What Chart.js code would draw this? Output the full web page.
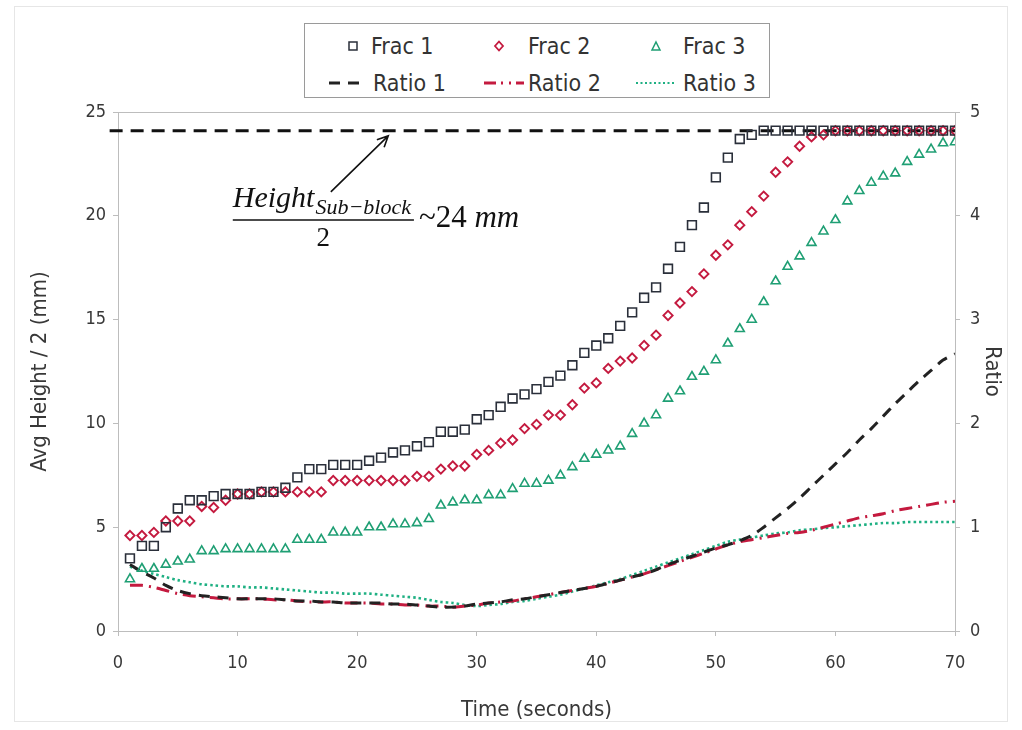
<!DOCTYPE html>
<html>
<head>
<meta charset="utf-8">
<script src="https://cdn.jsdelivr.net/npm/chart.js@4.4.1/dist/chart.umd.min.js"></script>
<style>
  html, body { margin: 0; padding: 0; background: #fff; }
  #wrap { position: relative; width: 1022px; height: 730px; }
  #frame { position: absolute; left: 14px; top: 6px; width: 992px; height: 714px; border: 1px solid #e6e6e6; }
  #legend {
    position: absolute; left: 304px; top: 23px; width: 464px; height: 73px;
    border: 1px solid #9a9a9a; background: #fff; color: #333;
    font-family: 'Liberation Sans Narrow', 'DejaVu Sans Condensed', sans-serif; font-size: 23px;
  }
  #legend .sym { position: absolute; transform: translate(-50%, -50%); }
  #legend .txt { position: absolute; transform: translateY(-50%); white-space: nowrap; line-height: 1; }
</style>
</head>
<body>
<div id="wrap">
  <div id="frame"></div>
  <canvas id="chart" width="1022" height="730"></canvas>
  <div id="legend">
    <svg class="sym" style="left:48px;top:22px" width="12" height="12"><rect x="2" y="2" width="8" height="8" fill="none" stroke="#2a2f3a" stroke-width="1.5"/></svg>
    <span class="txt" style="left:66px;top:22px">Frac 1</span>
    <svg class="sym" style="left:194px;top:22px" width="12" height="12"><path d="M6 1.5 L10 6 L6 10.5 L2 6 Z" fill="none" stroke="#c41a3f" stroke-width="1.8"/></svg>
    <span class="txt" style="left:223px;top:22px">Frac 2</span>
    <svg class="sym" style="left:351px;top:22px" width="12" height="12"><path d="M6 2 L10 10 L2 10 Z" fill="none" stroke="#1f9f74" stroke-width="1.5"/></svg>
    <span class="txt" style="left:378px;top:22px">Frac 3</span>

    <svg class="sym" style="left:40px;top:59px" width="34" height="8"><line x1="1" y1="4" x2="33" y2="4" stroke="#222" stroke-width="3" stroke-dasharray="11 8"/></svg>
    <span class="txt" style="left:68px;top:59px">Ratio 1</span>
    <svg class="sym" style="left:199px;top:59px" width="42" height="8"><line x1="1" y1="4" x2="41" y2="4" stroke="#c41a3f" stroke-width="3" stroke-dasharray="12 5 2 6 2 5"/></svg>
    <span class="txt" style="left:223px;top:59px">Ratio 2</span>
    <svg class="sym" style="left:351px;top:59px" width="42" height="8"><line x1="1" y1="4" x2="41" y2="4" stroke="#1fb083" stroke-width="2.2" stroke-dasharray="2 2.5"/></svg>
    <span class="txt" style="left:378px;top:59px">Ratio 3</span>
  </div>
</div>
<script>
const seconds = [1, 2, 3, 4, 5, 6, 7, 8, 9, 10, 11, 12, 13, 14, 15, 16, 17, 18, 19, 20,
  21, 22, 23, 24, 25, 26, 27, 28, 29, 30, 31, 32, 33, 34, 35, 36, 37, 38, 39, 40,
  41, 42, 43, 44, 45, 46, 47, 48, 49, 50, 51, 52, 53, 54, 55, 56, 57, 58, 59, 60,
  61, 62, 63, 64, 65, 66, 67, 68, 69, 70];

// avg height / 2 (mm), left axis
const frac1 = [3.5, 4.1, 4.1, 5.0, 5.9, 6.3, 6.3, 6.5, 6.6, 6.6, 6.6, 6.7, 6.7, 6.9, 7.4, 7.8, 7.8, 8.0, 8.0, 8.0,
  8.2, 8.35, 8.6, 8.7, 8.9, 9.1, 9.6, 9.6, 9.7, 10.2, 10.4, 10.8, 11.2, 11.4, 11.65, 12.0, 12.3, 12.8, 13.4, 13.75,
  14.1, 14.7, 15.35, 16.05, 16.55, 17.45, 18.5, 19.55, 20.4, 21.85, 22.8, 23.7, 23.9, 24.1, 24.1, 24.1, 24.1, 24.1, 24.1, 24.1,
  24.1, 24.1, 24.1, 24.1, 24.1, 24.1, 24.1, 24.1, 24.1, 24.1];
const frac2 = [4.6, 4.6, 4.75, 5.3, 5.3, 5.3, 6.0, 5.95, 6.3, 6.6, 6.6, 6.7, 6.7, 6.7, 6.7, 6.7, 6.7, 7.25, 7.25, 7.25,
  7.25, 7.25, 7.25, 7.25, 7.45, 7.45, 7.8, 7.95, 7.95, 8.5, 8.7, 9.05, 9.2, 9.75, 9.95, 10.4, 10.4, 10.9, 11.7, 11.95,
  12.65, 13.0, 13.15, 13.75, 14.25, 15.2, 15.8, 16.35, 17.2, 18.1, 18.6, 19.55, 20.2, 20.95, 22.1, 22.6, 23.35, 23.8, 23.9, 24.1,
  24.1, 24.1, 24.1, 24.1, 24.1, 24.1, 24.1, 24.1, 24.1, 24.1];
const frac3 = [2.5, 3.0, 3.0, 3.2, 3.35, 3.45, 3.85, 3.85, 3.95, 3.95, 3.95, 3.95, 3.95, 3.95, 4.4, 4.4, 4.4, 4.75, 4.75, 4.75,
  5.0, 5.0, 5.15, 5.15, 5.2, 5.4, 6.05, 6.2, 6.3, 6.3, 6.55, 6.55, 6.85, 7.1, 7.1, 7.25, 7.5, 7.9, 8.3, 8.5,
  8.7, 8.9, 9.5, 10.0, 10.4, 11.2, 11.55, 12.25, 12.5, 13.05, 13.85, 14.55, 15.0, 15.85, 16.85, 17.55, 18.05, 18.7, 19.25, 19.8,
  20.7, 21.2, 21.6, 21.9, 22.05, 22.6, 22.95, 23.2, 23.5, 23.55];

// ratios, right axis
const ratio1 = [0.64, 0.57, 0.51, 0.44, 0.39, 0.36, 0.34, 0.33, 0.32, 0.31, 0.31, 0.31, 0.31, 0.30, 0.29, 0.29, 0.28, 0.28, 0.27, 0.27,
  0.27, 0.27, 0.26, 0.26, 0.25, 0.24, 0.23, 0.23, 0.24, 0.26, 0.27, 0.28, 0.30, 0.31, 0.33, 0.35, 0.37, 0.39, 0.41, 0.43,
  0.46, 0.49, 0.52, 0.55, 0.59, 0.64, 0.68, 0.72, 0.76, 0.80, 0.83, 0.87, 0.92, 1.00, 1.09, 1.18, 1.28, 1.39, 1.50, 1.61,
  1.72, 1.84, 1.95, 2.07, 2.19, 2.30, 2.41, 2.51, 2.61, 2.67];
const ratio2 = [0.44, 0.44, 0.42, 0.39, 0.36, 0.34, 0.33, 0.32, 0.31, 0.31, 0.31, 0.31, 0.30, 0.30, 0.29, 0.28, 0.28, 0.28, 0.27, 0.27,
  0.27, 0.26, 0.26, 0.25, 0.25, 0.24, 0.24, 0.23, 0.24, 0.25, 0.27, 0.28, 0.29, 0.31, 0.33, 0.35, 0.37, 0.39, 0.41, 0.43,
  0.46, 0.49, 0.52, 0.55, 0.59, 0.63, 0.67, 0.71, 0.75, 0.79, 0.83, 0.86, 0.88, 0.90, 0.92, 0.94, 0.95, 0.97, 1.00, 1.03,
  1.06, 1.09, 1.11, 1.13, 1.16, 1.18, 1.20, 1.22, 1.24, 1.25];
const ratio3 = [0.62, 0.58, 0.55, 0.52, 0.49, 0.47, 0.45, 0.44, 0.43, 0.43, 0.42, 0.42, 0.41, 0.40, 0.39, 0.38, 0.37, 0.37, 0.36, 0.36,
  0.36, 0.35, 0.34, 0.33, 0.32, 0.30, 0.28, 0.27, 0.25, 0.24, 0.25, 0.26, 0.28, 0.29, 0.31, 0.33, 0.35, 0.38, 0.41, 0.44,
  0.47, 0.50, 0.54, 0.58, 0.62, 0.66, 0.70, 0.74, 0.78, 0.82, 0.86, 0.88, 0.90, 0.92, 0.94, 0.95, 0.97, 0.98, 0.99, 1.00,
  1.01, 1.02, 1.03, 1.04, 1.04, 1.05, 1.05, 1.05, 1.05, 1.05];

// sub-block half height reference line
const refX = [-0.7, 70];
const refY = [24.1, 24.1];

// annotation anchors (data units): arrow tail, arrow head, label left / fraction bar
const arrowFrom = [17.8, 21.15];
const arrowTo = [22.6, 23.85];
const labelAt = [9.6, 19.8];

const xTicks = [0, 10, 20, 30, 40, 50, 60, 70];
const yTicks = [0, 5, 10, 15, 20, 25];
const y1Ticks = [0, 1, 2, 3, 4, 5];

const FONT = "'Liberation Sans Narrow', 'DejaVu Sans Condensed', sans-serif";
const TEXT = '#383838';
const AXIS = '#bdbdbd';

const pts = (xs, ys) => xs.map((x, i) => ({ x: x, y: ys[i] }));

const annotPlugin = {
  id: 'annot',
  beforeDatasetsDraw(chart) {
    const { ctx, chartArea: a } = chart;
    ctx.save();
    ctx.strokeStyle = AXIS;
    ctx.lineWidth = 1;
    ctx.strokeRect(a.left + 0.5, a.top + 0.5, a.right - a.left, a.bottom - a.top);
    ctx.restore();
  },
  afterDatasetsDraw(chart) {
    const { ctx, scales: { x, y } } = chart;
    ctx.save();
    // arrow
    const x0 = x.getPixelForValue(arrowFrom[0]), y0 = y.getPixelForValue(arrowFrom[1]);
    const x1 = x.getPixelForValue(arrowTo[0]), y1 = y.getPixelForValue(arrowTo[1]);
    ctx.strokeStyle = '#111';
    ctx.lineWidth = 1.6;
    ctx.beginPath();
    ctx.moveTo(x0, y0);
    ctx.lineTo(x1, y1);
    const ang = Math.atan2(y1 - y0, x1 - x0);
    ctx.moveTo(x1 - 12 * Math.cos(ang - 0.45), y1 - 12 * Math.sin(ang - 0.45));
    ctx.lineTo(x1, y1);
    ctx.lineTo(x1 - 12 * Math.cos(ang + 0.45), y1 - 12 * Math.sin(ang + 0.45));
    ctx.stroke();

    // Height_{Sub-block} / 2 ~24 mm
    const lx = x.getPixelForValue(labelAt[0]), ly = y.getPixelForValue(labelAt[1]);
    ctx.fillStyle = '#111';
    ctx.textAlign = 'left';
    ctx.textBaseline = 'alphabetic';
    ctx.font = "italic 30px 'Liberation Serif', 'DejaVu Serif', serif";
    ctx.fillText('Height', lx, ly - 13);
    const wH = ctx.measureText('Height').width;
    ctx.font = "italic 22px 'Liberation Serif', 'DejaVu Serif', serif";
    ctx.fillText('Sub\u2212block', lx + wH + 1, ly - 6);
    const wS = ctx.measureText('Sub\u2212block').width;
    const barEnd = lx + wH + 1 + wS + 3;
    ctx.lineWidth = 1.4;
    ctx.beginPath();
    ctx.moveTo(lx, ly);
    ctx.lineTo(barEnd, ly);
    ctx.stroke();
    ctx.font = "27px 'Liberation Serif', 'DejaVu Serif', serif";
    ctx.textAlign = 'center';
    ctx.fillText('2', (lx + barEnd) / 2, ly + 26);
    ctx.textAlign = 'left';
    ctx.font = "31px 'Liberation Serif', 'DejaVu Serif', serif";
    ctx.fillText('~24', barEnd + 5, ly + 7);
    const w24 = ctx.measureText('~24 ').width;
    ctx.font = "italic 31px 'Liberation Serif', 'DejaVu Serif', serif";
    ctx.fillText('mm', barEnd + 5 + w24, ly + 7);
    ctx.restore();
  }
};

new Chart(document.getElementById('chart'), {
  type: 'scatter',
  data: {
    datasets: [
      { label: 'Frac 1', data: pts(seconds, frac1), yAxisID: 'y', pointStyle: 'rect', pointRadius: 6.2,
        borderColor: '#2a2f3a', backgroundColor: 'rgba(0,0,0,0)', pointBorderWidth: 1.6, showLine: false },
      { label: 'Frac 2', data: pts(seconds, frac2), yAxisID: 'y', pointStyle: 'rectRot', pointRadius: 4.6,
        borderColor: '#c41a3f', backgroundColor: 'rgba(0,0,0,0)', pointBorderWidth: 1.9, showLine: false },
      { label: 'Frac 3', data: pts(seconds, frac3), yAxisID: 'y', pointStyle: 'triangle', pointRadius: 5.2,
        borderColor: '#1f9f74', backgroundColor: 'rgba(0,0,0,0)', pointBorderWidth: 1.6, showLine: false },
      { label: 'Ratio 1', data: pts(seconds, ratio1), yAxisID: 'y1', showLine: true, pointRadius: 0,
        borderColor: '#222', borderWidth: 3, borderDash: [11, 8], tension: 0.3 },
      { label: 'Ratio 2', data: pts(seconds, ratio2), yAxisID: 'y1', showLine: true, pointRadius: 0,
        borderColor: '#c41a3f', borderWidth: 3, borderDash: [13, 6, 2, 6], tension: 0.3 },
      { label: 'Ratio 3', data: pts(seconds, ratio3), yAxisID: 'y1', showLine: true, pointRadius: 0,
        borderColor: '#1fb083', borderWidth: 2.6, borderDash: [2.5, 3], tension: 0.3 },
      { label: 'ref', data: pts(refX, refY), yAxisID: 'y', showLine: true, pointRadius: 0, clip: false,
        borderColor: '#111', borderWidth: 3, borderDash: [13, 8] }
    ]
  },
  options: {
    responsive: false,
    animation: false,
    devicePixelRatio: 1,
    layout: { padding: { top: 112, left: 0, right: 0, bottom: 0 } },
    plugins: { legend: { display: false }, tooltip: { enabled: false } },
    scales: {
      x: {
        type: 'linear', min: 0, max: 70,
        afterFit: (s) => { s.height = 99; },
        afterBuildTicks: (s) => { s.ticks = xTicks.map(v => ({ value: v })); },
        grid: { drawOnChartArea: false, drawTicks: true, tickLength: 5, color: AXIS },
        border: { color: AXIS },
        ticks: { padding: 17, color: TEXT, font: { family: FONT, size: 18 } },
        title: { display: true, text: 'Time (seconds)', color: TEXT, padding: { top: 0, bottom: 7 },
          font: { family: FONT, size: 22 } }
      },
      y: {
        position: 'left', min: 0, max: 25,
        afterFit: (s) => { s.width = 118; },
        afterBuildTicks: (s) => { s.ticks = yTicks.map(v => ({ value: v })); },
        grid: { drawOnChartArea: false, drawTicks: true, tickLength: 5, color: AXIS },
        border: { color: AXIS },
        ticks: { padding: 7, color: TEXT, font: { family: FONT, size: 18 } },
        title: { display: true, text: 'Avg Height / 2 (mm)', color: TEXT, padding: { top: 27, bottom: 0 },
          font: { family: FONT, size: 22 } }
      },
      y1: {
        position: 'right', min: 0, max: 5,
        afterFit: (s) => { s.width = 67; },
        afterBuildTicks: (s) => { s.ticks = y1Ticks.map(v => ({ value: v })); },
        grid: { drawOnChartArea: false, drawTicks: true, tickLength: 5, color: AXIS },
        border: { color: AXIS },
        ticks: { padding: 10, color: TEXT, font: { family: FONT, size: 18 } },
        title: { display: true, text: 'Ratio', color: TEXT, padding: { top: 17, bottom: 0 },
          font: { family: FONT, size: 22 } }
      }
    }
  },
  plugins: [annotPlugin]
});
</script>
</body>
</html>
